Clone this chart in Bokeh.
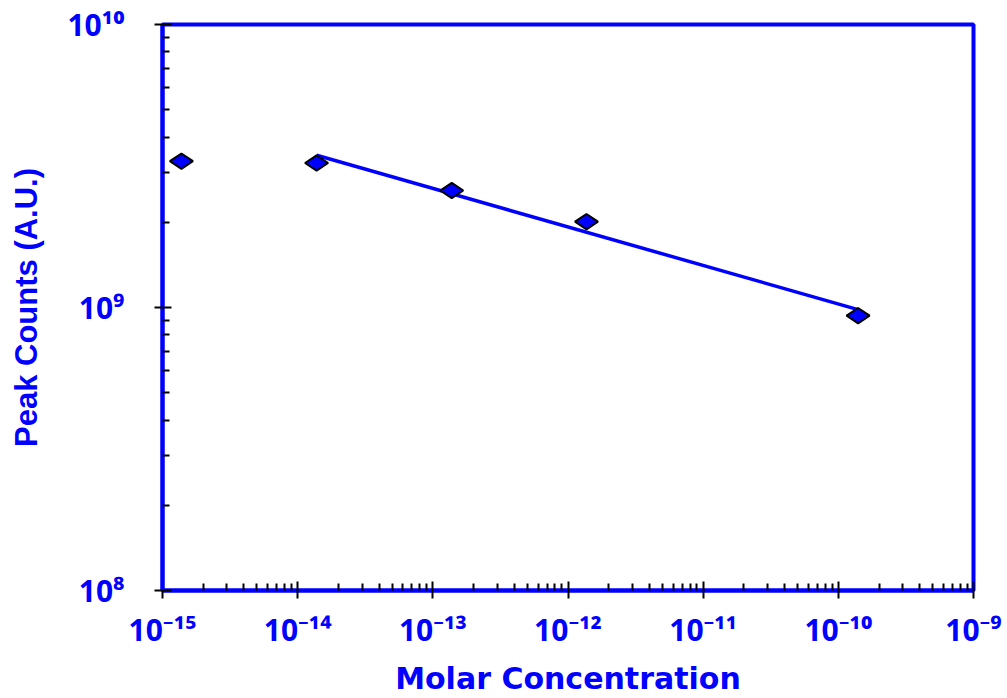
import numpy as np
from bokeh.plotting import figure
from bokeh.models import FixedTicker, Range1d, CustomJSTickFormatter
from bokeh.embed import file_html
from bokeh.resources import INLINE

# ---------------- data ----------------
concentration = [1.38e-15, 1.38e-14, 1.38e-13, 1.37e-12, 1.40e-10]   # Molar
peak_counts = [3.29e9, 3.24e9, 2.59e9, 2.01e9, 9.36e8]             # A.U.
fit_points = [1, 2, 3, 4]          # indices of points used for the power-law fit

x_exponents = [-15, -14, -13, -12, -11, -10, -9]
y_exponents = [8, 9, 10]
x_tick_labels = ["10⁻¹⁵", "10⁻¹⁴", "10⁻¹³", "10⁻¹²", "10⁻¹¹", "10⁻¹⁰", "10⁻⁹"]
y_tick_labels = ["10⁸", "10⁹", "10¹⁰"]
x_title = "Molar Concentration"
y_title = "Peak Counts (A.U.)"

BLUE = "#0000FF"

# ---------------- figure ----------------
p = figure(width=1007, height=698, x_axis_type="log", y_axis_type="log",
           x_range=Range1d(10.0 ** x_exponents[0], 10.0 ** x_exponents[-1]),
           y_range=Range1d(10.0 ** y_exponents[0], 10.0 ** y_exponents[-1]),
           output_backend="svg", toolbar_location=None,
           min_border_left=162, min_border_right=34,
           min_border_top=24, min_border_bottom=108)
p.xgrid.visible = False
p.ygrid.visible = False
p.background_fill_color = "white"
p.border_fill_color = "white"
p.outline_line_color = BLUE
p.outline_line_width = 4

x_major = [10.0 ** e for e in x_exponents]
y_major = [10.0 ** e for e in y_exponents]
x_minor = [m * 10.0 ** e for e in x_exponents[:-1] for m in range(2, 10)]
y_minor = [m * 10.0 ** e for e in y_exponents[:-1] for m in range(2, 10)]
p.xaxis.ticker = FixedTicker(ticks=x_major, minor_ticks=x_minor)
p.yaxis.ticker = FixedTicker(ticks=y_major, minor_ticks=y_minor)

js = "const i = Math.round(Math.log10(tick)) - e0; return (i >= 0 && i < labels.length) ? labels[i] : '';"
p.xaxis.formatter = CustomJSTickFormatter(args=dict(labels=x_tick_labels, e0=x_exponents[0]), code=js)
p.yaxis.formatter = CustomJSTickFormatter(args=dict(labels=y_tick_labels, e0=y_exponents[0]), code=js)

for ax in (p.xaxis, p.yaxis):
    ax.axis_line_color = BLUE
    ax.axis_line_width = 4
    ax.major_tick_line_color = "black"
    ax.major_tick_line_width = 2
    ax.minor_tick_line_color = "black"
    ax.minor_tick_line_width = 2
    ax.major_tick_in = 9
    ax.major_tick_out = 8
    ax.minor_tick_in = 7
    ax.minor_tick_out = 0
    ax.major_label_text_font = "Noto Sans"
    ax.major_label_text_font_style = "bold"
    ax.major_label_text_font_size = "30px"
    ax.major_label_text_color = BLUE
    ax.major_label_text_line_height = 1.0
    ax.axis_label_text_color = BLUE
    ax.axis_label_text_font_style = "bold"
    ax.axis_label_text_line_height = 1.0

p.xaxis.major_label_standoff = 10
p.yaxis.major_label_standoff = 30

p.xaxis.axis_label = x_title
p.xaxis.axis_label_text_font = "DejaVu Sans"
p.xaxis.axis_label_text_font_size = "30px"
p.xaxis.axis_label_standoff = 8

p.yaxis.axis_label = y_title
p.yaxis.axis_label_text_font = "Liberation Sans"
p.yaxis.axis_label_text_font_size = "31px"
p.yaxis.axis_label_standoff = 20

# ---------------- data marks ----------------
lx = np.log10([concentration[i] for i in fit_points])
ly = np.log10([peak_counts[i] for i in fit_points])
slope, intercept = np.polyfit(lx, ly, 1)
fit_x = [concentration[fit_points[0]], concentration[fit_points[-1]]]
fit_y = [10 ** (intercept + slope * np.log10(v)) for v in fit_x]
p.line(fit_x, fit_y, line_color=BLUE, line_width=3.5)

p.scatter(concentration, peak_counts, marker="diamond", angle=np.pi / 2, size=23,
          fill_color=BLUE, line_color="black", line_width=2)

open("out.html", "w").write(file_html(p, INLINE))
